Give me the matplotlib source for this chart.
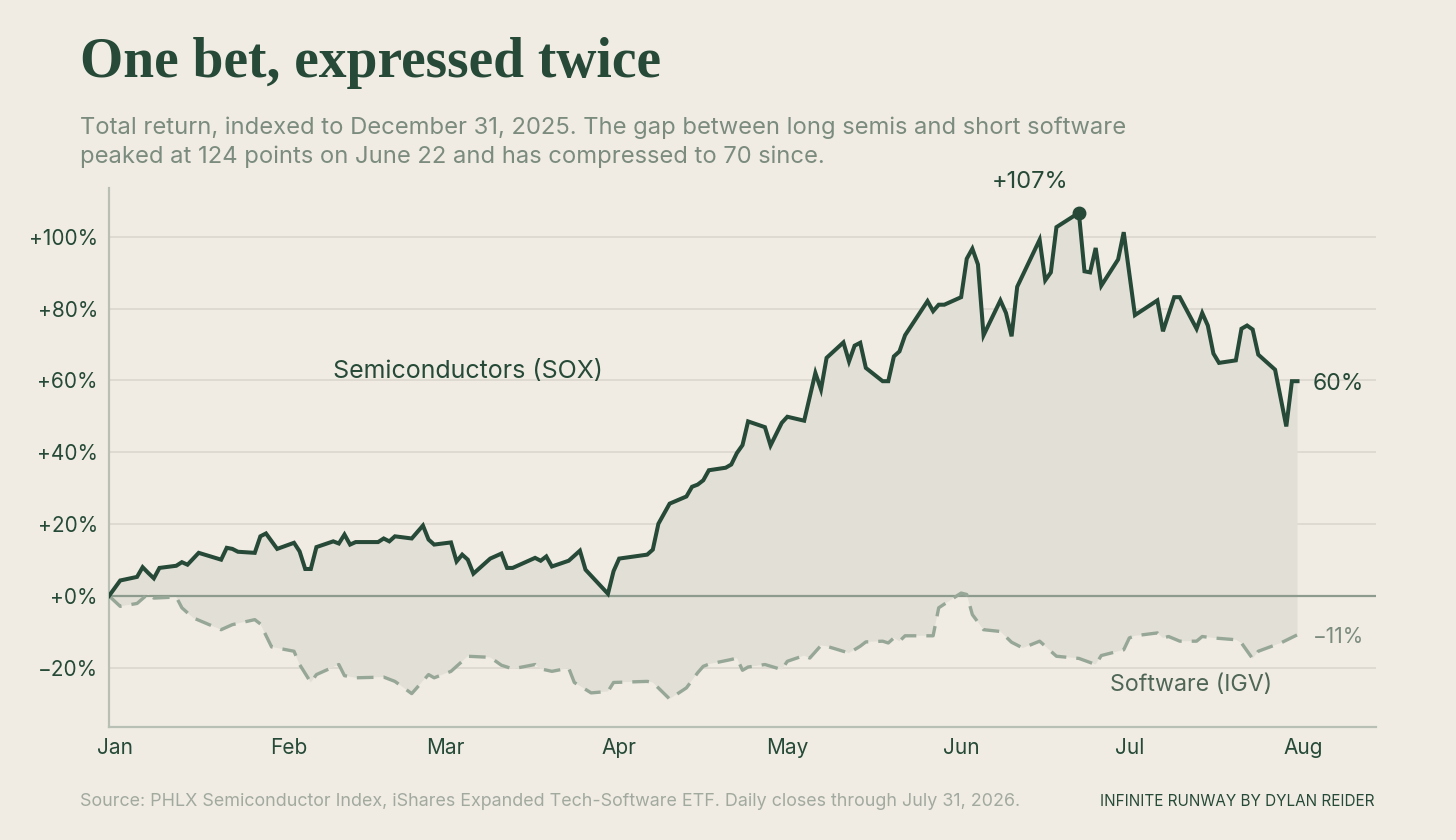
import matplotlib
matplotlib.use('Agg')
import matplotlib.pyplot as plt
import matplotlib.dates as mdates
import numpy as np
import pandas as pd

# SOX total return (%), daily closes indexed to 2025-12-31
sox_dates = ['2025-12-31', '2026-01-02', '2026-01-05', '2026-01-06', '2026-01-07', '2026-01-08', '2026-01-09',
             '2026-01-12', '2026-01-13', '2026-01-14', '2026-01-16', '2026-01-20', '2026-01-21', '2026-01-22',
             '2026-01-23', '2026-01-26', '2026-01-27', '2026-01-28', '2026-01-30', '2026-02-02', '2026-02-03',
             '2026-02-04', '2026-02-05', '2026-02-06', '2026-02-09', '2026-02-10', '2026-02-11', '2026-02-12',
             '2026-02-13', '2026-02-17', '2026-02-18', '2026-02-19', '2026-02-20', '2026-02-23', '2026-02-25',
             '2026-02-26', '2026-02-27', '2026-03-02', '2026-03-03', '2026-03-04', '2026-03-05', '2026-03-06',
             '2026-03-09', '2026-03-11', '2026-03-12', '2026-03-13', '2026-03-17', '2026-03-18', '2026-03-19',
             '2026-03-20', '2026-03-23', '2026-03-25', '2026-03-26', '2026-03-30', '2026-03-31', '2026-04-01',
             '2026-04-06', '2026-04-07', '2026-04-08', '2026-04-10', '2026-04-13', '2026-04-14', '2026-04-15',
             '2026-04-16', '2026-04-17', '2026-04-20', '2026-04-21', '2026-04-22', '2026-04-23', '2026-04-24',
             '2026-04-27', '2026-04-28', '2026-04-30', '2026-05-01', '2026-05-04', '2026-05-06', '2026-05-07',
             '2026-05-08', '2026-05-11', '2026-05-12', '2026-05-13', '2026-05-14', '2026-05-15', '2026-05-18',
             '2026-05-19', '2026-05-20', '2026-05-21', '2026-05-22', '2026-05-26', '2026-05-27', '2026-05-28',
             '2026-05-29', '2026-06-01', '2026-06-02', '2026-06-03', '2026-06-04', '2026-06-05', '2026-06-08',
             '2026-06-09', '2026-06-10', '2026-06-11', '2026-06-15', '2026-06-16', '2026-06-17', '2026-06-18',
             '2026-06-22', '2026-06-23', '2026-06-24', '2026-06-25', '2026-06-26', '2026-06-29', '2026-06-30',
             '2026-07-02', '2026-07-06', '2026-07-07', '2026-07-09', '2026-07-10', '2026-07-13', '2026-07-14',
             '2026-07-15', '2026-07-16', '2026-07-17', '2026-07-20', '2026-07-21', '2026-07-22', '2026-07-23',
             '2026-07-24', '2026-07-27', '2026-07-29', '2026-07-30', '2026-07-31']
sox_vals = [0, 4.3, 5.3, 8.0, 6.4, 4.9, 7.8,
            8.4, 9.4, 8.7, 12.0, 10.1, 13.4, 13.1,
            12.3, 12.0, 16.6, 17.4, 13.1, 14.8, 12.4,
            7.5, 7.5, 13.6, 15.2, 14.6, 17.1, 14.3,
            15.0, 15.0, 16.0, 15.2, 16.6, 16.0, 19.6,
            15.7, 14.3, 14.9, 9.6, 11.5, 10.1, 6.2,
            10.4, 11.8, 7.8, 7.8, 10.6, 9.8, 11.0,
            8.2, 9.8, 12.6, 7.3, 0.6, 6.9, 10.4,
            11.5, 12.9, 20.1, 25.7, 27.7, 30.4, 31.0,
            32.2, 35.0, 35.7, 36.6, 39.8, 42.0, 48.6,
            47.0, 41.9, 48.2, 49.9, 48.8, 62.1, 57.5,
            66.3, 70.6, 65.3, 69.7, 70.5, 63.5, 59.8,
            59.8, 66.7, 68.1, 72.6, 82.1, 79.3, 81.1,
            81.1, 83.2, 93.9, 96.7, 92.3, 72.6, 82.3,
            78.8, 72.3, 86.1, 99.2, 87.9, 90.1, 102.7,
            106.7, 90.4, 90.1, 96.9, 86.4, 93.7, 101.3,
            78.2, 82.3, 73.7, 83.2, 83.2, 74.4, 78.8,
            75.3, 67.5, 64.9, 65.6, 74.4, 75.3, 74.2,
            67.2, 63.0, 47.2, 59.8, 59.8]

# IGV total return (%)
igv_dates = ['2025-12-31', '2026-01-02', '2026-01-05', '2026-01-07', '2026-01-08', '2026-01-12', '2026-01-13',
             '2026-01-15', '2026-01-20', '2026-01-22', '2026-01-26', '2026-01-27', '2026-01-29', '2026-02-02',
             '2026-02-03', '2026-02-05', '2026-02-06', '2026-02-10', '2026-02-11', '2026-02-13', '2026-02-18',
             '2026-02-20', '2026-02-23', '2026-02-26', '2026-02-27', '2026-03-02', '2026-03-05', '2026-03-09',
             '2026-03-11', '2026-03-13', '2026-03-17', '2026-03-18', '2026-03-20', '2026-03-23', '2026-03-24',
             '2026-03-27', '2026-03-30', '2026-03-31', '2026-04-06', '2026-04-07', '2026-04-10', '2026-04-13',
             '2026-04-15', '2026-04-16', '2026-04-17', '2026-04-21', '2026-04-22', '2026-04-23', '2026-04-24',
             '2026-04-27', '2026-04-30', '2026-05-01', '2026-05-04', '2026-05-05', '2026-05-07', '2026-05-08',
             '2026-05-12', '2026-05-14', '2026-05-15', '2026-05-18', '2026-05-19', '2026-05-20', '2026-05-21',
             '2026-05-22', '2026-05-27', '2026-05-28', '2026-06-01', '2026-06-02', '2026-06-03', '2026-06-05',
             '2026-06-08', '2026-06-10', '2026-06-12', '2026-06-15', '2026-06-17', '2026-06-18', '2026-06-22',
             '2026-06-25', '2026-06-26', '2026-06-29', '2026-06-30', '2026-07-01', '2026-07-02', '2026-07-06',
             '2026-07-07', '2026-07-08', '2026-07-10', '2026-07-13', '2026-07-14', '2026-07-16', '2026-07-20',
             '2026-07-21', '2026-07-23', '2026-07-24', '2026-07-28', '2026-07-31']
igv_vals = [0, -2.9, -2.1, 0.6, -0.6, -0.3, -3.3,
            -6.1, -9.4, -8.0, -6.6, -7.8, -14.2, -15.4,
            -19.1, -24.1, -21.9, -19.1, -22.2, -22.8, -22.6,
            -23.8, -27.2, -21.9, -22.8, -21.0, -16.8, -17.1,
            -19.3, -20.3, -19.1, -20.3, -21.0, -20.1, -24.1,
            -27.0, -26.6, -24.1, -23.8, -24.1, -28.7, -25.6,
            -21.4, -19.6, -19.0, -17.7, -17.3, -20.7, -19.8,
            -19.1, -20.5, -18.2, -16.6, -17.3, -13.8, -14.0,
            -15.9, -14.0, -12.8, -12.6, -13.1, -11.7, -12.6,
            -11.1, -11.1, -3.3, 0.8, 0.4, -5.2, -9.4,
            -9.9, -12.9, -14.5, -12.6, -15.4, -16.8, -17.4,
            -19.1, -16.6, -15.4, -15.0, -11.7, -11.1, -10.3,
            -11.7, -11.3, -12.6, -12.6, -11.3, -11.7, -12.2,
            -13.1, -17.5, -15.4, -13.1, -10.8]

month_ticks = ['2026-01-01', '2026-02-01', '2026-03-01', '2026-04-01', '2026-05-01', '2026-06-01', '2026-07-01', '2026-08-01']
month_labels = ['Jan', 'Feb', 'Mar', 'Apr', 'May', 'Jun', 'Jul', 'Aug']
y_ticks = [-20, 0, 20, 40, 60, 80, 100]

BG = '#f0ece4'
DARK = '#264a37'
SOFT = '#97a797'
MUTED = '#7b8b7e'
FILL = '#e2dfd7'

plt.rcParams['font.family'] = ['Inter', 'DejaVu Sans']

sx = pd.to_datetime(sox_dates)
ix = pd.to_datetime(igv_dates)
sv = np.array(sox_vals)
iv = np.array(igv_vals)

fig = plt.figure(figsize=(14.56, 8.4), dpi=100, facecolor=BG)
ax = fig.add_axes([109/1456, 113/840, (1376-109)/1456, (727-188)/840])
ax.set_facecolor(BG)

# shaded gap between the two lines
poly_x = np.concatenate([mdates.date2num(sx), mdates.date2num(ix)[::-1]])
poly_y = np.concatenate([sv, iv[::-1]])
ax.fill(poly_x, poly_y, color=FILL, lw=0, zorder=1)

for t in y_ticks:
    if t != 0:
        ax.axhline(t, color='#d9d5cc', lw=1.1, zorder=0)
ax.axhline(0, color='#8d9b8e', lw=1.6, zorder=2)

ax.plot(ix, iv, color=SOFT, lw=2.4, dashes=(5, 3), zorder=3)
ax.plot(sx, sv, color=DARK, lw=2.9, solid_joinstyle='miter', zorder=4)

k = int(np.argmax(sv))
ax.plot(sx[k], sv[k], 'o', color=DARK, ms=9, zorder=5)
ax.annotate('+107%', (sx[k], sv[k]), xytext=(-35, 22), textcoords='offset points',
            ha='center', va='center', fontsize=17, color=DARK)
ax.annotate('60%', (sx[-1], sv[-1]), xytext=(11, -2), textcoords='offset points',
            ha='left', va='center', fontsize=16.5, color=DARK)
ax.annotate('\u221211%', (ix[-1], iv[-1]), xytext=(11, -1.5), textcoords='offset points',
            ha='left', va='center', fontsize=15, color=MUTED)
ax.text(pd.Timestamp('2026-02-09'), 62.5, 'Semiconductors (SOX)', fontsize=18, color=DARK,
        ha='left', va='center')
ax.text(pd.Timestamp('2026-07-12'), -24.7, 'Software (IGV)', fontsize=16.7, color='#4f6656',
        ha='center', va='center')

ax.set_xlim(pd.Timestamp('2025-12-31'), pd.Timestamp('2026-08-14'))
ax.set_ylim(-36.5, 113.6)
ax.set_xticks(pd.to_datetime(month_ticks))
ax.set_xticklabels(month_labels)
ax.set_yticks(y_ticks)
ax.set_yticklabels([('+%d%%' % t) if t >= 0 else ('\u2212%d%%' % -t) for t in y_ticks])
ax.tick_params(axis='both', length=0, labelsize=15, labelcolor=DARK)
ax.tick_params(axis='x', pad=8)
ax.tick_params(axis='y', pad=8)
for s in ['top', 'right']:
    ax.spines[s].set_visible(False)
for s in ['left', 'bottom']:
    ax.spines[s].set_color('#b8bfb4')
    ax.spines[s].set_linewidth(1.6)

fig.text(80/1456, 1 - 77/840, 'One bet, expressed twice', fontsize=40, fontweight='bold',
         family='Liberation Serif', color=DARK, va='baseline')
fig.text(80/1456, 1 - 134/840, 'Total return, indexed to December 31, 2025. The gap between long semis and short software',
         fontsize=17.1, color=MUTED, va='baseline')
fig.text(80/1456, 1 - 163/840, 'peaked at 124 points on June 22 and has compressed to 70 since.',
         fontsize=17.1, color=MUTED, va='baseline')
fig.text(80/1456, 1 - 806/840, 'Source: PHLX Semiconductor Index, iShares Expanded Tech-Software ETF. Daily closes through July 31, 2026.',
         fontsize=12.9, color='#a2aa9f', va='baseline')
fig.text(1375/1456, 1 - 806/840, 'INFINITE RUNWAY BY DYLAN REIDER', fontsize=11, color=DARK,
         ha='right', va='baseline')

fig.savefig('out.png', dpi=100, facecolor=BG)
